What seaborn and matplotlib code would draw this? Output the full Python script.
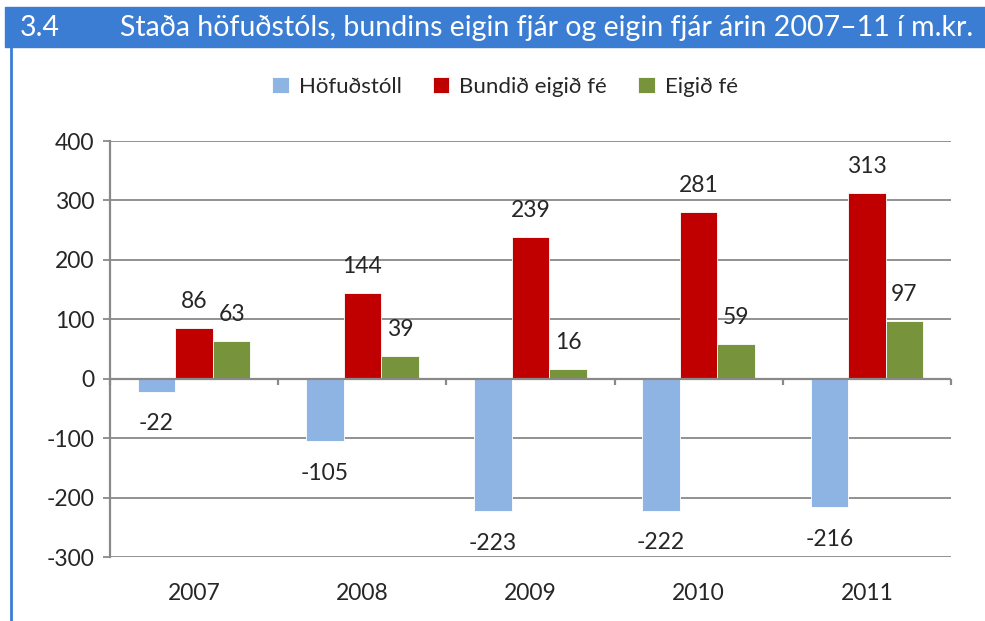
import pandas as pd
import matplotlib.pyplot as plt
import matplotlib.patches as mpatches
import matplotlib.lines as mlines
import seaborn as sns

# ─── Data ───────────────────────────────────────────
years = ["2007", "2008", "2009", "2010", "2011"]
hofudstoll = [-22, -105, -223, -222, -216]
bundid = [86, 144, 239, 281, 313]
eigid = [63, 39, 16, 59, 97]
series_names = ["Höfuðstóll", "Bundið eigið fé", "Eigið fé"]
y_ticks = [-300, -200, -100, 0, 100, 200, 300, 400]

TITLE_NUM = "3.4"
TITLE = "Staða höfuðstóls, bundins eigin fjár og eigin fjár árin 2007–11 í m.kr."

BLUE_BAR = "#8EB4E3"
RED = "#C00000"
GREEN = "#77933C"
HEADER = "#3B7DD3"
GRID = "#898989"

sns.set_theme(style="white")
plt.rcParams["font.family"] = ["Lato", "DejaVu Sans"]
plt.rcParams["axes.unicode_minus"] = False

df = pd.DataFrame({
    "year": years * 3,
    "value": hofudstoll + bundid + eigid,
    "series": [series_names[0]] * 5 + [series_names[1]] * 5 + [series_names[2]] * 5,
})

W, H = 985, 621
fig = plt.figure(figsize=(W / 100, H / 100), dpi=100)

# title bar and left border
fig.patches.append(mpatches.Rectangle((5 / W, 1 - 47 / H), 1 - 5 / W, 40 / H,
                                      transform=fig.transFigure, color=HEADER, zorder=0))
fig.lines.append(mlines.Line2D([11 / W, 11 / W], [0, 1 - 47 / H],
                               transform=fig.transFigure, color=HEADER, lw=2))
fig.text(20 / W, 1 - 28 / H, TITLE_NUM, color="white", fontsize=20.5, va="center")
fig.text(120 / W, 1 - 28 / H, TITLE, color="white", fontsize=20.5, va="center")

ax = fig.add_axes([110 / W, (H - 557) / H, (951 - 110) / W, (557 - 141) / H])
sns.barplot(data=df, x="year", y="value", hue="series",
            palette=[BLUE_BAR, RED, GREEN], saturation=1, width=0.67,
            edgecolor="white", linewidth=0.6, ax=ax, legend=True)

ax.set_ylim(-300, 400)
ax.set_yticks(y_ticks)
ax.set_xlim(-0.5, len(years) - 0.5)
for t in y_ticks:
    if t != 0:
        ax.axhline(t, color=GRID, lw=1.3, zorder=0)
ax.axhline(0, color=GRID, lw=1.6, zorder=3)
ax.vlines([i - 0.5 for i in range(len(years) + 1)], -10, 0, color=GRID, lw=1.6, zorder=3,
          clip_on=False)

for s in ["top", "right", "bottom"]:
    ax.spines[s].set_visible(False)
ax.spines["left"].set_color(GRID)
ax.spines["left"].set_linewidth(1.6)
ax.tick_params(axis="y", length=5, width=1.3, color=GRID, left=True, labelsize=16.5, pad=6)
ax.tick_params(axis="x", length=0, labelsize=16.5, pad=19)
ax.set_xlabel("")
ax.set_ylabel("")

for cont in ax.containers:
    for bar in cont:
        v = bar.get_height()
        x = bar.get_x() + bar.get_width() / 2
        off = 19 if v >= 0 else -23
        ax.annotate(f"{v:.0f}", (x, v), xytext=(0, off), textcoords="offset points",
                    ha="center", va="center", fontsize=16.5)

handles, labels = ax.get_legend_handles_labels()
ax.legend(handles, labels, loc="center", ncol=3, frameon=False, fontsize=16,
          handlelength=0.75, handleheight=0.75, columnspacing=1.4, handletextpad=0.45)
ax.get_legend().set_bbox_to_anchor((505 / W, 1 - 87 / H), transform=fig.transFigure)

fig.savefig("out.png", dpi=100)
